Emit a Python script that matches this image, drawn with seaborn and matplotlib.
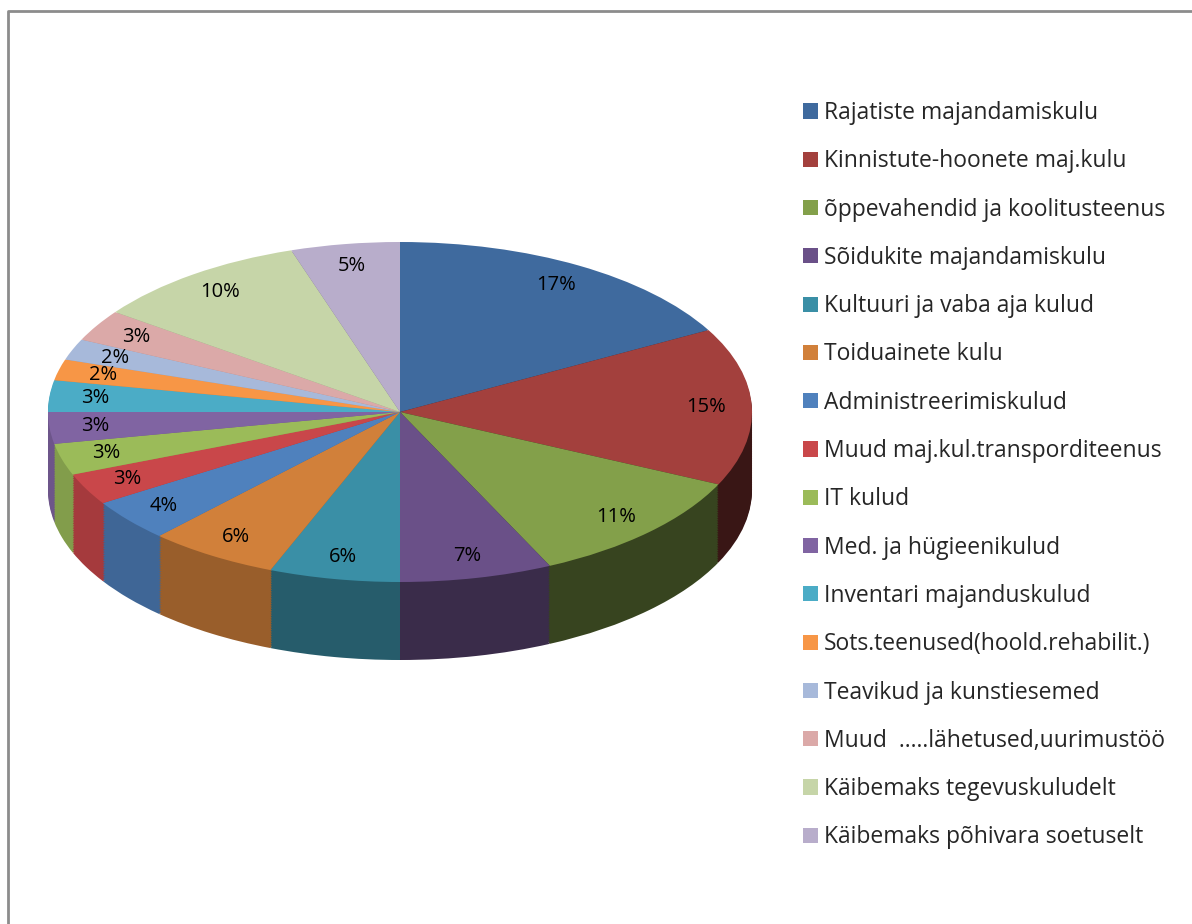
import numpy as np
import matplotlib.pyplot as plt
import matplotlib.colors as mcolors
from matplotlib.lines import Line2D
import seaborn as sns

sns.set_theme(style="white")
plt.rcParams['font.family'] = ['Open Sans', 'DejaVu Sans']

# data
categories = [
    "Rajatiste majandamiskulu",
    "Kinnistute-hoonete maj.kulu",
    "õppevahendid ja koolitusteenus",
    "Sõidukite majandamiskulu",
    "Kultuuri ja vaba aja kulud",
    "Toiduainete kulu",
    "Administreerimiskulud",
    "Muud maj.kul.transporditeenus",
    "IT kulud",
    "Med. ja hügieenikulud",
    "Inventari majanduskulud",
    "Sots.teenused(hoold.rehabilit.)",
    "Teavikud ja kunstiesemed",
    "Muud  …..lähetused,uurimustöö",
    "Käibemaks tegevuskuludelt",
    "Käibemaks põhivara soetuselt",
]
shares = [17, 15, 11, 7, 6, 6, 4, 3, 3, 3, 3, 2, 2, 3, 10, 5]
colors = ["#3F6A9E", "#A3403D", "#83A04A", "#6A5088", "#3A8FA6", "#D1803A",
          "#4F81BD", "#C9474A", "#9BBB59", "#8064A2", "#4BACC6", "#F79646",
          "#A7B9DA", "#DBA9A8", "#C6D5A8", "#B8ADCB"]

W, H = 1192, 924
fig = plt.figure(figsize=(W / 100, H / 100), dpi=100)

# pie geometry (pixels)
cx, cy, rx, ry, depth = 400, 412, 352, 170, 78
d = depth / ry
ax = fig.add_axes([(cx - rx) / W, (H - (cy + ry + depth)) / H,
                   2 * rx / W, (2 * ry + depth) / H])

# side shading depends on wedge direction
frac = np.cumsum([0] + shares) / sum(shares)
mid = 90 - 360 * (frac[:-1] + frac[1:]) / 2
side_cols = []
for c, a in zip(colors, mid):
    f = 0.6 - 0.25 * np.cos(np.radians(a))
    r, g, b = mcolors.to_rgb(c)
    side_cols.append((r * f, g * f, b * f))

for k in np.linspace(d, 0.01, 45):
    ax.pie(shares, colors=side_cols, startangle=90, counterclock=False,
           center=(0, -k), radius=1, wedgeprops=dict(linewidth=0))

wedges, _, autotexts = ax.pie(
    shares, colors=colors, startangle=90, counterclock=False,
    center=(0, 0), radius=1, autopct=lambda p: f"{p:.0f}%",
    pctdistance=0.87, wedgeprops=dict(linewidth=0),
    textprops=dict(fontsize=14.5, color="black"))

ax.set_aspect("auto")
ax.set_xlim(-1, 1)
ax.set_ylim(-1 - d, 1)
ax.axis("off")

fig.legend(wedges, categories, loc="upper left",
           bbox_to_anchor=(803 / W, 1 - 101 / H), frameon=False,
           fontsize=16.5, handlelength=0.64, handleheight=0.64,
           handletextpad=0.28, labelspacing=1.06, borderaxespad=0,
           borderpad=0)

# outer frame (left and top edges)
fig.add_artist(Line2D([8 / W, 8 / W, 1], [0, 1 - 11 / H, 1 - 11 / H],
                      transform=fig.transFigure, color="#8c8c8c", lw=2))

fig.savefig("out.png", dpi=100)
